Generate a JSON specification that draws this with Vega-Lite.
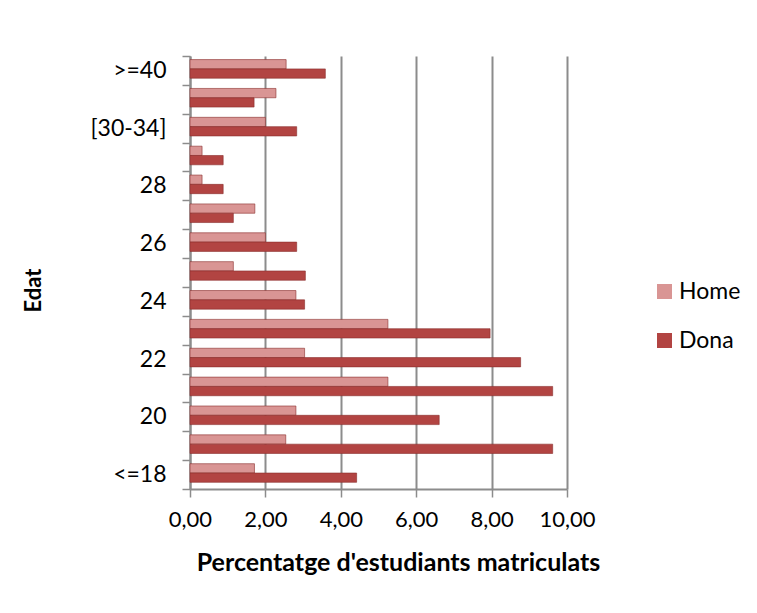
{
  "$schema": "https://vega.github.io/schema/vega-lite/v6.json",
  "autosize": "none",
  "width": 377,
  "height": 433,
  "padding": {"left": 190, "top": 56, "right": 190, "bottom": 124},
  "background": "white",
  "data": {
    "values": [
      {"edat": "<=18", "sexe": "Home", "pct": 1.71},
      {"edat": "<=18", "sexe": "Dona", "pct": 4.42},
      {"edat": "19", "sexe": "Home", "pct": 2.54},
      {"edat": "19", "sexe": "Dona", "pct": 9.62},
      {"edat": "20", "sexe": "Home", "pct": 2.81},
      {"edat": "20", "sexe": "Dona", "pct": 6.61},
      {"edat": "21", "sexe": "Home", "pct": 5.25},
      {"edat": "21", "sexe": "Dona", "pct": 9.62},
      {"edat": "22", "sexe": "Home", "pct": 3.04},
      {"edat": "22", "sexe": "Dona", "pct": 8.77},
      {"edat": "23", "sexe": "Home", "pct": 5.25},
      {"edat": "23", "sexe": "Dona", "pct": 7.96},
      {"edat": "24", "sexe": "Home", "pct": 2.81},
      {"edat": "24", "sexe": "Dona", "pct": 3.04},
      {"edat": "25", "sexe": "Home", "pct": 1.15},
      {"edat": "25", "sexe": "Dona", "pct": 3.06},
      {"edat": "26", "sexe": "Home", "pct": 2.0},
      {"edat": "26", "sexe": "Dona", "pct": 2.83},
      {"edat": "27", "sexe": "Home", "pct": 1.72},
      {"edat": "27", "sexe": "Dona", "pct": 1.15},
      {"edat": "28", "sexe": "Home", "pct": 0.32},
      {"edat": "28", "sexe": "Dona", "pct": 0.88},
      {"edat": "29", "sexe": "Home", "pct": 0.32},
      {"edat": "29", "sexe": "Dona", "pct": 0.88},
      {"edat": "[30-34]", "sexe": "Home", "pct": 2.0},
      {"edat": "[30-34]", "sexe": "Dona", "pct": 2.83},
      {"edat": "[35-39]", "sexe": "Home", "pct": 2.28},
      {"edat": "[35-39]", "sexe": "Dona", "pct": 1.7},
      {"edat": ">=40", "sexe": "Home", "pct": 2.55},
      {"edat": ">=40", "sexe": "Dona", "pct": 3.59}
    ]
  },
  "mark": {"type": "bar", "stroke": "#8a2e2c", "strokeWidth": 0.6},
  "encoding": {
    "y": {
      "field": "edat",
      "type": "nominal",
      "sort": [">=40", "[35-39]", "[30-34]", "29", "28", "27", "26", "25", "24", "23", "22", "21", "20", "19", "<=18"],
      "scale": {"paddingInner": 0, "paddingOuter": 0},
      "axis": {
        "title": "Edat",
        "titleFont": "Lato",
        "titleFontSize": 22,
        "titleFontWeight": "bold",
        "titleColor": "#000000",
        "titleX": -157,
        "titleY": 234,
        "titleAngle": -90,
        "titleAlign": "center",
        "titleBaseline": "middle",
        "labelFont": "Lato",
        "labelFontSize": 23,
        "labelColor": "#000000",
        "labelPadding": 16,
        "labelOverlap": false,
        "labelExpr": "indexof(['>=40','[30-34]','28','26','24','22','20','<=18'], datum.value) >= 0 ? datum.value : ''",
        "tickBand": "extent",
        "tickSize": 8,
        "tickColor": "#8c8c8c",
        "tickWidth": 1.5,
        "domainColor": "#8c8c8c",
        "domainWidth": 2,
        "grid": false
      }
    },
    "yOffset": {
      "field": "sexe",
      "type": "nominal",
      "sort": ["Home", "Dona"],
      "scale": {"paddingInner": 0, "paddingOuter": 0.55, "align": 0.35}
    },
    "x": {
      "field": "pct",
      "type": "quantitative",
      "scale": {"domain": [0, 10], "nice": false},
      "axis": {
        "title": "Percentatge d'estudiants matriculats",
        "titleFont": "Lato",
        "titleFontSize": 25,
        "titleFontWeight": "bold",
        "titleColor": "#000000",
        "titlePadding": 20,
        "titleX": 208,
        "titleAnchor": "middle",
        "labelFont": "Lato",
        "labelFontSize": 22,
        "labelColor": "#000000",
        "labelPadding": 12,
        "labelOverlap": false,
        "labelBound": false,
        "labelFlush": false,
        "values": [0, 2, 4, 6, 8, 10],
        "labelExpr": "replace(format(datum.value, '.2f'), '.', ',')",
        "tickSize": 8,
        "tickColor": "#8c8c8c",
        "tickWidth": 1.5,
        "domainColor": "#8c8c8c",
        "domainWidth": 2,
        "grid": true,
        "gridColor": "#8c8c8c",
        "gridWidth": 2
      }
    },
    "color": {
      "field": "sexe",
      "type": "nominal",
      "sort": ["Home", "Dona"],
      "scale": {"domain": ["Home", "Dona"], "range": ["#d99594", "#b24442"]},
      "legend": {
        "title": null,
        "orient": "none",
        "legendX": 463,
        "legendY": 224,
        "padding": 0,
        "symbolType": "square",
        "symbolSize": 225,
        "symbolStrokeWidth": 0,
        "labelFont": "Lato",
        "labelFontSize": 23,
        "labelColor": "#000000",
        "labelOffset": 3,
        "rowPadding": 25
      }
    }
  },
  "config": {
    "view": {"stroke": null}
  }
}
